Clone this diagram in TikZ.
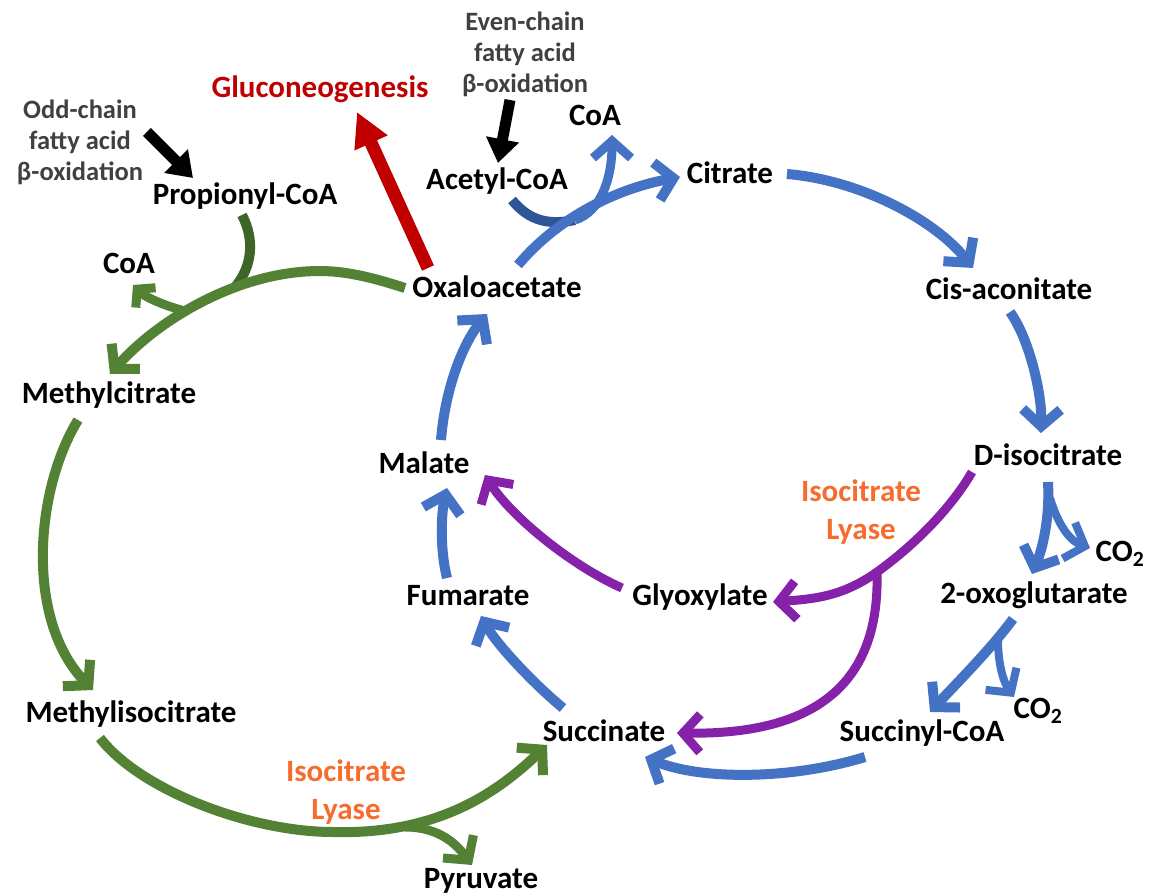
\documentclass[tikz,border=0pt]{standalone}
\usepackage{fontspec}
\setmainfont{Carlito}
\usetikzlibrary{arrows.meta}
\definecolor{cblue}{RGB}{68,114,196}
\definecolor{cdblue}{RGB}{47,85,151}
\definecolor{cgreen}{RGB}{84,130,53}
\definecolor{cdgreen}{RGB}{62,100,40}
\definecolor{cpurple}{RGB}{134,34,170}
\definecolor{cred}{RGB}{192,0,0}
\definecolor{corange}{RGB}{247,108,45}
\definecolor{cgray}{RGB}{64,64,64}
\begin{document}
\begin{tikzpicture}[x=1pt,y=-1pt,
  lbl/.style={font=\fontsize{31}{36}\selectfont\bfseries,inner sep=0pt,text height=21pt,text depth=5pt},
  small/.style={font=\fontsize{26.5}{31}\selectfont\bfseries,text=cgray,align=center,inner sep=0pt},
  enz/.style={font=\fontsize{31}{38}\selectfont\bfseries,text=corange,align=center,inner sep=0pt},
  cbarb/.style={-{Straight Barb[length=17pt,width=38pt]}},
  sbarb/.style={-{Straight Barb[length=12pt,width=28pt]}},
  bl/.style={draw=cblue,line width=10pt},
  gr/.style={draw=cgreen,line width=10pt},
  pu/.style={draw=cpurple,line width=9pt},
  bigarr/.style={line width=13pt,-{Triangle[length=34pt,width=34pt]}},
  blkarr/.style={draw=black,line width=11pt,-{Triangle[length=24pt,width=32pt]}}
]
\fill[white] (0,0) rectangle (1152,896);
\useasboundingbox (0,0) rectangle (1152,896);

% nodes
\node[small] (evenfa) at (525,54) {Even-chain\\fatty acid\\β-oxidation};
\node[small] (oddfa) at (80,142) {Odd-chain\\fatty acid\\β-oxidation};
\node[lbl,text=cred] (gluco) at (320,90) {Gluconeogenesis};
\node[lbl] (coaT) at (595,118) {CoA};
\node[lbl] (acetyl) at (497,182) {Acetyl-CoA};
\node[lbl] (citrate) at (730,176) {Citrate};
\node[lbl] (propionyl) at (245,197) {Propionyl-CoA};
\node[lbl] (coaL) at (129,265) {CoA};
\node[lbl] (oxa) at (497,290) {Oxaloacetate};
\node[lbl] (cis) at (1009,291) {Cis-aconitate};
\node[lbl] (methylcit) at (109,395) {Methylcitrate};
\node[lbl] (malate) at (424,465) {Malate};
\node[lbl] (disoc) at (1048,457) {D-isocitrate};
\node[enz] (icl1) at (861,512) {Isocitrate\\Lyase};
\node[lbl] (co2a) at (1120,553) {CO\textsubscript{2}};
\node[lbl] (fumarate) at (468,597) {Fumarate};
\node[lbl] (glyox) at (700,597) {Glyoxylate};
\node[lbl] (oxoglu) at (1034,595) {2-oxoglutarate};
\node[lbl] (co2b) at (1038,710) {CO\textsubscript{2}};
\node[lbl] (methyliso) at (131,714) {Methylisocitrate};
\node[lbl] (succinate) at (604,733) {Succinate};
\node[lbl] (succoa) at (922,733) {Succinyl-CoA};
\node[enz] (icl2) at (346,792) {Isocitrate\\Lyase};
\node[lbl] (pyruvate) at (481,880) {Pyruvate};

% junction coordinates
\coordinate (gtop) at (320,271);
\coordinate (pj) at (236,286);
\coordinate (cj) at (185,311);
\coordinate (gbot) at (333,832);
\coordinate (pyj) at (405,827);
\coordinate (acj) at (575,220);
\coordinate (pk) at (877,572);
\coordinate (dj) at (1050,498);
\coordinate (oj) at (998,640);

% green (methylcitrate cycle)
\draw[draw=cdgreen,line width=10pt] ([shift={(-3,18)}]propionyl.center) .. controls +(13,25) and +(16,-20) .. (pj);
\draw[gr,cbarb] ([shift={(-92,-2)}]oxa.center) .. controls +(-25,-8) and +(30,0) .. (gtop)
   .. controls +(-80,0) and +(50,-56) .. ([shift={(1,-21)}]methylcit.center);
\draw[gr,sbarb,line width=9pt] (cj) .. controls +(-20,-5) and +(12,12) .. ([shift={(4,20)}]coaL.center);
\draw[gr,cbarb] ([shift={(-31,25)}]methylcit.center) .. controls +(-43,70) and +(-68,-70) .. ([shift={(-38,-24)}]methyliso.center);
\draw[gr,cbarb] ([shift={(-31,24)}]methyliso.center) .. controls +(40,52) and +(-83,0) .. (gbot)
   .. controls +(107,3) and +(-47,45) .. ([shift={(-57,12)}]succinate.center);
\draw[gr,cbarb,line width=9pt] (pyj) .. controls +(35,0) and +(-15,-20) .. ([shift={(-9,-15)}]pyruvate.center);

% purple (glyoxylate shunt)
\draw[pu,cbarb] ([shift={(-76,15)}]disoc.center) .. controls +(-22,38) and +(35,-25) .. (pk)
   .. controls +(-35,25) and +(40,-3) .. ([shift={(73,5)}]glyox.center);
\draw[pu,cbarb] (pk) .. controls +(3,108) and +(143,2) .. ([shift={(73,0)}]succinate.center);
\draw[pu,cbarb] ([shift={(-78,-9)}]glyox.center) .. controls +(-52,-23) and +(25,40) .. ([shift={(61,10)}]malate.center);

% acetyl-CoA entry
\draw[draw=cdblue,line width=10pt] ([shift={(15,18)}]acetyl.center) .. controls +(18,22) and +(-25,5) .. (acj);
\draw[bl,cbarb,line width=9pt] (acj) .. controls +(25,-8) and +(0,45) .. ([shift={(17,17)}]coaT.center);

% blue (TCA cycle)
\draw[bl,cbarb] ([shift={(21,-25)}]oxa.center) .. controls +(42,-50) and +(-60,11) .. ([shift={(-50,1)}]citrate.center);
\draw[bl,cbarb] ([shift={(57,-2)}]citrate.center) .. controls +(73,6) and +(-38,-48) .. ([shift={(-36,-23)}]cis.center);
\draw[bl,cbarb] ([shift={(1,21)}]cis.center) .. controls +(20,28) and +(1,-38) .. ([shift={(-7,-24)}]disoc.center);
\draw[bl,cbarb] ([shift={(0,25)}]disoc.center) .. controls +(2,38) and +(10,-24) .. ([shift={(-2,-21)}]oxoglu.center);
\draw[bl,cbarb,line width=8pt] (dj) .. controls +(8,27) and +(-20,-7) .. ([shift={(-30,-5)}]co2a.center);
\draw[bl,cbarb] ([shift={(-21,24)}]oxoglu.center) .. controls +(-23,31) and +(25,-27) .. ([shift={(8,-21)}]succoa.center);
\draw[bl,cbarb,line width=8pt] (oj) .. controls +(0,25) and +(-10,-14) .. ([shift={(-24,-13)}]co2b.center);
\draw[bl,cbarb] ([shift={(-57,24)}]succoa.center) .. controls +(-75,23) and +(55,23) .. ([shift={(41,24)}]succinate.center);
\draw[bl,cbarb] ([shift={(-41,-25)}]succinate.center) .. controls +(-28,-23) and +(16,29) .. ([shift={(13,19)}]fumarate.center);
\draw[bl,cbarb] ([shift={(-21,-19)}]fumarate.center) .. controls +(-7,-28) and +(-6,27) .. ([shift={(23,23)}]malate.center);
\draw[bl,cbarb] ([shift={(17,-25)}]malate.center) .. controls +(4,-50) and +(-25,31) .. ([shift={(-10,24)}]oxa.center);

% red gluconeogenesis
\draw[draw=cred,fill=cred,bigarr] ([shift={(-69,-22)}]oxa.center) -- ([shift={(37,22)}]gluco.center);

% black fatty acid inputs
\draw[blkarr,fill=black] ([shift={(67,-10)}]oddfa.center) -- ([shift={(-52,-19)}]propionyl.center);
\draw[blkarr,fill=black] ([shift={(-15,46)}]evenfa.center) -- ([shift={(1,-19)}]acetyl.center);
\end{tikzpicture}
\end{document}
